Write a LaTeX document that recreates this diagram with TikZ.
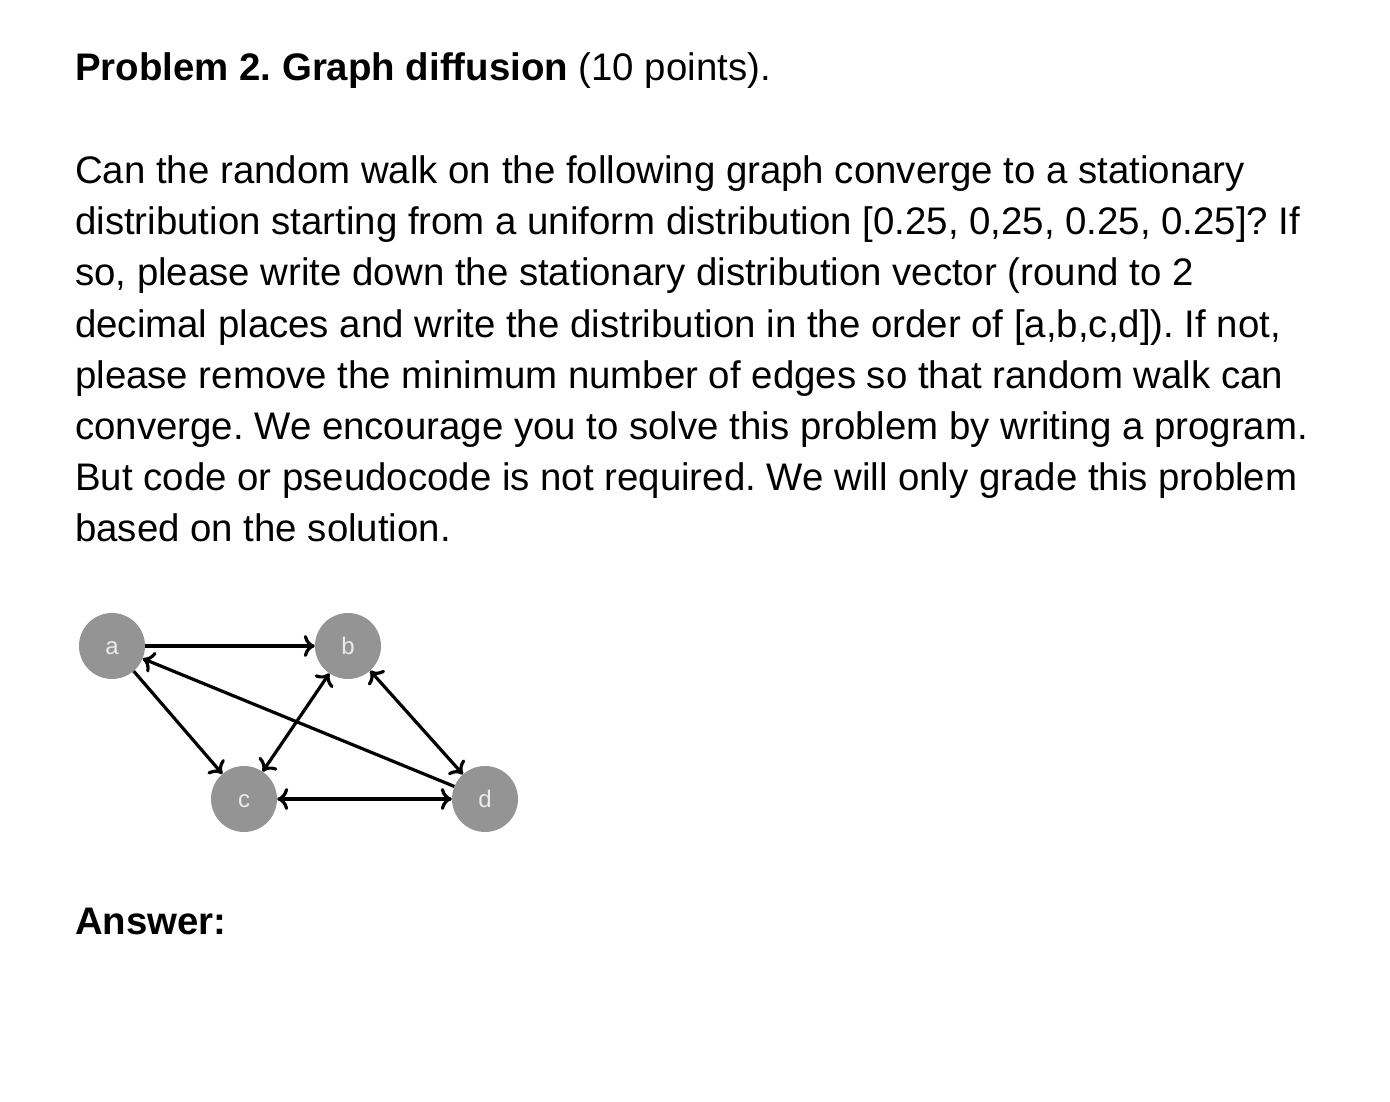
\documentclass[tikz,border=0pt]{standalone}
\usepackage{fontspec}
\setmainfont{Liberation Sans}
\usetikzlibrary{arrows.meta}
\frenchspacing
\begin{document}
\begin{tikzpicture}[x=1pt,y=-1pt,
  txt/.style={anchor=base west,inner sep=0pt,font=\fontsize{38.4}{42}\selectfont},
  vtx/.style={circle,fill=black!42,minimum size=66pt,inner sep=0pt,text=white!92!black,font=\fontsize{24}{26}\selectfont,text height=17pt,text depth=0pt},
  tip/.tip={To[length=11pt,width=22pt,line width=3.2pt]},
  edge/.style={line width=3.2pt,-tip},
  bedge/.style={line width=3.2pt,tip-tip}]
\useasboundingbox (0,0) rectangle (1390,1102);
\node[txt] (t0) at (75,81) {\textbf{Problem 2. Graph diffusion} (10 points).};
\node[txt] (t1) at (75,184) {Can the random walk on the following graph converge to a stationary};
\node[txt] (t2) at (75,235) {distribution starting from a uniform distribution [0.25, 0,25, 0.25, 0.25]? If};
\node[txt] (t3) at (75,286) {so, please write down the stationary distribution vector (round to 2};
\node[txt] (t4) at (75,337) {decimal places and write the distribution in the order of [a,b,c,d]). If not,};
\node[txt] (t5) at (75,388) {please remove the minimum number of edges so that random walk can};
\node[txt] (t6) at (75,439) {converge. We encourage you to solve this problem by writing a program.};
\node[txt] (t7) at (75,490) {But code or pseudocode is not required. We will only grade this problem};
\node[txt] (t8) at (75,541) {based on the solution.};
\node[txt] (ans) at (75,934) {\textbf{Answer:}};
\node[vtx] (a) at (112,646) {a};
\node[vtx] (b) at (348,646) {b};
\node[vtx] (c) at (244,799) {c};
\node[vtx] (d) at (485,799) {d};
\draw[edge] (a) -- (b);
\draw[edge] (a) -- (c);
\draw[edge] (d) -- (a);
\draw[bedge] (c) -- (b);
\draw[bedge] (b) -- (d);
\draw[bedge] (c) -- (d);
\end{tikzpicture}
\end{document}
